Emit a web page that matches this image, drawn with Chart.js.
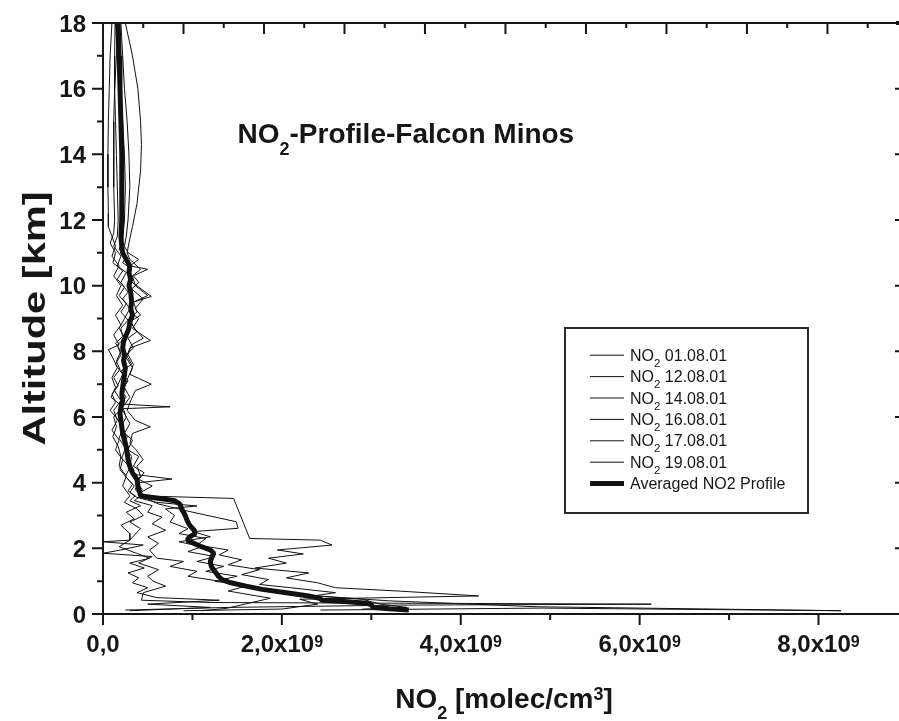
<!DOCTYPE html>
<html>
<head>
<meta charset="utf-8">
<script src="https://cdn.jsdelivr.net/npm/chart.js@4"></script>
<style>
  html, body { margin: 0; padding: 0; background: #fff; overflow: hidden; }
  #wrap { width: 899px; height: 721px; position: relative; }
</style>
</head>
<body>
<div id="wrap"><canvas id="c" width="899" height="721"></canvas></div>
<script>
// NO2 number density in units of 1e9 molec/cm3, altitude in km
const alt_010801 = [18,17,16,15,14.3,13.5,12.5,11.8,11.3,11.0,10.8,10.5,10.3,10.0,9.7,9.5,9.2,9.0,8.7,8.4,8.2,7.9,7.6,7.3,7.0,6.8,6.5,6.2,5.9,5.7,5.5,5.2,5.0,4.7,4.5,4.2,4.0,3.8,3.6,3.52,2.3,2.25,2.1,1.95,1.83,1.7,1.55,1.4,1.25,1.1,0.95,0.8,0.7,0.55,0.45,0.3,0.15,0.1];
const no2_010801 = [0.25,0.33,0.39,0.42,0.43,0.42,0.38,0.33,0.29,0.27,0.30,0.42,0.33,0.36,0.50,0.34,0.38,0.30,0.35,0.45,0.32,0.28,0.34,0.30,0.54,0.36,0.31,0.27,0.36,0.53,0.33,0.30,0.37,0.45,0.38,0.42,0.37,0.44,0.40,1.46,1.64,2.43,2.56,1.95,2.24,1.85,2.05,1.70,2.30,2.05,2.40,2.60,3.30,4.20,2.20,2.40,2.00,0.90];

const alt_120801 = [18,17,16,15,14,13,12.2,11.8,11.5,11.2,10.9,10.6,10.3,10.0,9.7,9.4,9.1,8.8,8.5,8.2,8.05,7.8,7.5,7.2,6.9,6.6,6.4,6.31,6.25,6.0,5.7,5.4,5.1,4.8,4.5,4.2,3.9,3.6,3.4,3.2,3.0,2.8,2.6,2.4,2.25,2.2,2.1,1.95,1.85,1.75,1.55,1.35,1.15,1.0,0.85,0.65,0.42,0.35,0.3,0.27,0.2,0.12];
const no2_120801 = [0.10,0.08,0.07,0.06,0.055,0.055,0.06,0.06,0.10,0.14,0.10,0.18,0.12,0.20,0.15,0.22,0.14,0.20,0.12,0.18,0.06,0.11,0.16,0.10,0.14,0.09,0.18,0.75,0.20,0.12,0.15,0.11,0.17,0.20,0.18,0.26,0.22,0.30,0.24,0.38,0.45,0.30,0.42,0.35,0.30,0.0,0.45,0.20,0.0,0.55,0.40,0.62,0.50,0.56,0.70,0.45,0.43,1.20,6.13,3.30,1.40,0.25];

const alt_140801 = [18,17,16,15,14,13,12,11.4,11.1,10.9,10.7,10.5,10.2,9.67,9.5,9.2,9.0,8.7,8.33,8.1,7.8,7.5,7.2,6.9,6.6,6.3,6.0,5.7,5.4,5.1,4.8,4.5,4.25,4.11,4.0,3.8,3.6,3.45,3.3,3.1,2.95,2.75,2.55,2.35,2.15,1.95,1.7,1.6,1.45,1.3,1.15,1.0,0.9,0.8,0.68,0.55,0.4,0.22,0.1,0.18,0.12];
const no2_140801 = [0.14,0.16,0.19,0.22,0.24,0.25,0.24,0.22,0.18,0.26,0.22,0.32,0.28,0.54,0.34,0.30,0.40,0.33,0.53,0.30,0.26,0.33,0.28,0.24,0.30,0.22,0.26,0.20,0.27,0.24,0.32,0.30,0.36,0.77,0.40,0.36,0.42,0.35,0.55,0.50,0.66,0.55,0.70,0.50,0.62,0.52,0.60,0.90,0.75,1.05,0.95,1.30,1.45,1.70,1.95,2.40,3.20,4.86,8.25,4.90,2.43];

const alt_160801 = [18,17,16,15,14,13,12,11.5,11.2,10.9,10.6,10.4,10.1,9.8,9.6,9.3,9.0,8.7,8.4,8.2,7.9,7.6,7.3,7.0,6.8,6.5,6.2,5.9,5.6,5.3,5.0,4.7,4.4,4.1,3.9,3.7,3.55,3.4,3.29,3.2,3.0,2.8,2.6,2.45,2.3,2.1,1.95,1.8,1.65,1.5,1.35,1.2,1.05,0.9,0.8,0.65,0.55,0.45,0.3,0.2,0.15];
const no2_160801 = [0.135,0.13,0.13,0.14,0.15,0.16,0.17,0.16,0.12,0.20,0.16,0.26,0.20,0.28,0.22,0.30,0.24,0.18,0.25,0.16,0.20,0.14,0.22,0.17,0.13,0.20,0.12,0.16,0.10,0.18,0.14,0.22,0.19,0.28,0.35,0.30,0.38,0.60,1.05,0.70,0.80,0.75,0.95,0.85,1.15,1.05,1.40,1.30,1.55,1.40,1.75,1.55,1.85,1.75,2.10,2.60,2.35,2.90,3.10,3.40,2.90];

const alt_170801 = [18,17,16,15,14,13,12,11.5,11.2,11.0,10.8,10.6,10.5,10.3,10.1,9.9,9.6,9.3,9.1,8.9,8.6,8.4,8.1,7.9,7.6,7.4,7.1,6.8,6.6,6.4,6.1,5.8,5.5,5.3,5.0,4.8,4.5,4.3,4.1,3.9,3.7,3.5,3.35,3.12,2.81,2.61,2.51,2.35,2.2,2.05,1.9,1.75,1.6,1.45,1.3,1.15,1.0,0.85,0.7,0.48,0.17,0.1];
const no2_170801 = [0.20,0.22,0.24,0.27,0.29,0.30,0.28,0.26,0.24,0.28,0.40,0.30,0.50,0.34,0.40,0.32,0.45,0.36,0.42,0.30,0.38,0.28,0.34,0.26,0.32,0.20,0.28,0.20,0.26,0.18,0.24,0.30,0.24,0.33,0.28,0.40,0.34,0.46,0.40,0.55,0.42,0.50,0.62,0.97,1.49,1.51,1.01,1.20,0.85,1.10,0.95,1.25,1.05,1.35,1.15,1.50,1.25,1.60,1.40,1.87,1.38,1.10];

const alt_190801 = [18,17,16,15,14,13,12,11.6,11.3,11.0,10.7,10.45,10.2,9.95,9.7,9.45,9.2,8.95,8.7,8.45,8.25,8.0,7.7,7.45,7.2,6.95,6.7,6.45,6.2,5.95,5.65,5.35,5.05,4.75,4.45,4.2,3.95,3.75,3.6,3.45,3.3,3.1,2.9,2.7,2.45,2.25,2.05,1.7,1.55,1.4,1.25,1.1,0.95,0.8,0.65,0.5,0.42,0.3,0.2,0.1];
const no2_190801 = [0.17,0.15,0.13,0.12,0.12,0.12,0.13,0.12,0.08,0.14,0.11,0.22,0.16,0.24,0.18,0.26,0.20,0.28,0.20,0.22,0.14,0.20,0.15,0.19,0.12,0.17,0.10,0.14,0.08,0.16,0.22,0.18,0.25,0.21,0.30,0.25,0.33,0.28,0.36,0.30,0.42,0.26,0.35,0.20,0.30,0.30,0.18,0.52,0.30,0.46,0.28,0.40,0.33,0.50,0.38,0.60,1.30,0.50,1.20,0.30];

const alt_avg = [18,17,16,15,14,13,12,11.5,11.2,11.0,10.8,10.6,10.4,10.2,10.0,9.8,9.5,9.3,9.1,8.9,8.7,8.5,8.3,8.1,7.9,7.7,7.5,7.3,7.1,6.9,6.7,6.5,6.3,6.1,5.9,5.7,5.5,5.3,5.1,4.9,4.7,4.5,4.3,4.1,3.9,3.7,3.6,3.55,3.5,3.45,3.35,3.2,3.0,2.85,2.7,2.55,2.45,2.35,2.25,2.15,2.05,1.95,1.85,1.75,1.6,1.45,1.3,1.15,1.05,0.95,0.85,0.75,0.65,0.55,0.48,0.42,0.38,0.33,0.28,0.2,0.16,0.12];
const no2_avg = [0.17,0.18,0.19,0.20,0.21,0.21,0.21,0.20,0.21,0.22,0.26,0.30,0.29,0.31,0.29,0.31,0.32,0.31,0.33,0.30,0.29,0.26,0.23,0.22,0.24,0.23,0.25,0.24,0.23,0.22,0.21,0.22,0.20,0.19,0.20,0.21,0.22,0.24,0.26,0.27,0.28,0.30,0.33,0.38,0.39,0.41,0.42,0.55,0.68,0.80,0.86,0.88,0.92,0.94,0.97,1.02,1.03,0.97,0.94,1.02,1.10,1.20,1.24,1.22,1.20,1.21,1.25,1.29,1.33,1.43,1.60,1.78,2.05,2.30,2.42,2.45,2.70,2.95,3.00,3.02,3.20,3.42];

const flightLabels = ['NO2 01.08.01','NO2 12.08.01','NO2 14.08.01','NO2 16.08.01','NO2 17.08.01','NO2 19.08.01'];
const avgLabel = 'Averaged NO2 Profile';

// axis tick values (x in 1e9 molec/cm3)
const xMajorTicks = [0, 2, 4, 6, 8];
const xMinorTicks = [1, 3, 5, 7];
const xTickLabels = ['0,0', '2,0x10^9', '4,0x10^9', '6,0x10^9', '8,0x10^9'];
const topMajorTicks = [0.9, 1.8, 2.7, 3.6, 4.5, 5.4, 6.3, 7.2, 8.1];
const topMinorTicks = [0.45, 1.35, 2.25, 3.15, 4.05, 4.95, 5.85, 6.75, 7.65, 8.55];
const yMajorTicks = [0, 2, 4, 6, 8, 10, 12, 14, 16, 18];
const yMinorTicks = [1, 3, 5, 7, 9, 11, 13, 15, 17];
const yTickLabels = ['0', '2', '4', '6', '8', '10', '12', '14', '16', '18'];

const FONT = '"Liberation Sans", Arial, Helvetica, sans-serif';
const INK = '#161616';

function profile(alts, vals) {
  return alts.map((a, i) => ({ x: vals[i], y: a }));
}

// text with '^c' superscript and '_c' subscript
function richParts(str) {
  const parts = []; let buf = '';
  for (let i = 0; i < str.length; i++) {
    const c = str[i];
    if ((c === '^' || c === '_') && i + 1 < str.length) {
      if (buf) { parts.push({ t: buf, k: 0 }); buf = ''; }
      parts.push({ t: str[i + 1], k: c === '^' ? 1 : -1 });
      i++;
    } else buf += c;
  }
  if (buf) parts.push({ t: buf, k: 0 });
  return parts;
}
function drawRich(ctx, str, x, y, o) {
  const parts = richParts(str);
  const fontFor = k => `${o.weight} ${k ? o.small : o.size}px ${FONT}`;
  let w = 0;
  parts.forEach(p => { ctx.font = fontFor(p.k); p.w = ctx.measureText(p.t).width; w += p.w; });
  let cx = o.align === 'center' ? x - w / 2 : o.align === 'right' ? x - w : x;
  ctx.textAlign = 'left';
  ctx.textBaseline = 'alphabetic';
  parts.forEach(p => {
    ctx.font = fontFor(p.k);
    ctx.fillText(p.t, cx, y + (p.k > 0 ? -o.up : p.k < 0 ? o.down : 0));
    cx += p.w;
  });
  return w;
}

const framePlugin = {
  id: 'frame',
  afterDatasetsDraw(chart) {
    const { ctx, chartArea: a, scales: { x, y } } = chart;
    ctx.save();
    ctx.strokeStyle = INK;
    ctx.fillStyle = INK;
    ctx.lineWidth = 2;
    ctx.lineCap = 'butt';

    // axis lines
    ctx.beginPath();
    ctx.moveTo(a.left, a.top); ctx.lineTo(a.left, a.bottom + 1);
    ctx.moveTo(a.left - 1, a.bottom); ctx.lineTo(a.right, a.bottom);
    ctx.moveTo(a.left - 1, a.top); ctx.lineTo(a.right, a.top);
    ctx.stroke();
    ctx.fillRect(a.right - 3, a.top - 2, 3, 4);

    // ticks
    ctx.beginPath();
    xMajorTicks.forEach(v => { const p = x.getPixelForValue(v); ctx.moveTo(p, a.bottom); ctx.lineTo(p, a.bottom + 11); });
    xMinorTicks.forEach(v => { const p = x.getPixelForValue(v); ctx.moveTo(p, a.bottom); ctx.lineTo(p, a.bottom + 6); });
    topMajorTicks.forEach(v => { const p = x.getPixelForValue(v); ctx.moveTo(p, a.top); ctx.lineTo(p, a.top + 11); });
    topMinorTicks.forEach(v => { const p = x.getPixelForValue(v); ctx.moveTo(p, a.top); ctx.lineTo(p, a.top + 5); });
    yMajorTicks.forEach(v => { const p = y.getPixelForValue(v); ctx.moveTo(a.left, p); ctx.lineTo(a.left - 11, p); });
    yMinorTicks.forEach(v => { const p = y.getPixelForValue(v); ctx.moveTo(a.left, p); ctx.lineTo(a.left - 6, p); });
    yMajorTicks.forEach(v => { const p = y.getPixelForValue(v); ctx.moveTo(a.right, p); ctx.lineTo(a.right - 4, p); });
    ctx.stroke();

    // tick labels
    xMajorTicks.forEach((v, i) => {
      drawRich(ctx, xTickLabels[i], x.getPixelForValue(v), a.bottom + 38,
        { weight: 'bold', size: 24, small: 16, up: 5.5, down: 0, align: 'center' });
    });
    yMajorTicks.forEach((v, i) => {
      drawRich(ctx, yTickLabels[i], a.left - 17, y.getPixelForValue(v) + 8.5,
        { weight: 'bold', size: 24, small: 16, up: 0, down: 0, align: 'right' });
    });

    // axis titles
    drawRich(ctx, 'NO_2 [molec/cm^3]', 504, 708,
      { weight: 'bold', size: 28, small: 18, up: 8, down: 11, align: 'center' });
    ctx.save();
    ctx.translate(45, (a.top + a.bottom) / 2);
    ctx.rotate(-Math.PI / 2);
    ctx.scale(1.3, 1);
    drawRich(ctx, 'Altitude [km]', 0, 0,
      { weight: 'bold', size: 32, small: 20, up: 0, down: 0, align: 'center' });
    ctx.restore();

    // chart title
    drawRich(ctx, 'NO_2-Profile-Falcon Minos', 237.5, 143.3,
      { weight: 'bold', size: 28, small: 18, up: 0, down: 12, align: 'left' });

    // legend
    const bx = 565, by = 328, bw = 243, bh = 185;
    ctx.fillStyle = '#fff';
    ctx.fillRect(bx, by, bw, bh);
    ctx.strokeStyle = '#2a2a2a';
    ctx.lineWidth = 2;
    ctx.strokeRect(bx, by, bw, bh);
    chart.data.datasets.forEach((ds, i) => {
      const base = 360.7 + i * 21.4;
      ctx.strokeStyle = ds.borderColor;
      ctx.lineWidth = ds.borderWidth;
      ctx.beginPath();
      ctx.moveTo(590, base - 5.5);
      ctx.lineTo(624, base - 5.5);
      ctx.stroke();
      ctx.fillStyle = INK;
      drawRich(ctx, ds.label.replace(/^NO2 /, 'NO_2 '), 630, base,
        { weight: 'normal', size: 16, small: 11.5, up: 0, down: 6, align: 'left' });
    });
    ctx.restore();
  }
};

const flightAlts = [alt_010801, alt_120801, alt_140801, alt_160801, alt_170801, alt_190801];
const flightVals = [no2_010801, no2_120801, no2_140801, no2_160801, no2_170801, no2_190801];

const datasets = flightLabels.map((lab, i) => ({
  label: lab,
  data: profile(flightAlts[i], flightVals[i]),
  borderColor: '#111',
  borderWidth: 1,
  showLine: true,
  pointRadius: 0,
  tension: 0
}));
datasets.push({
  label: avgLabel,
  data: profile(alt_avg, no2_avg),
  borderColor: '#111',
  borderWidth: 5,
  borderJoinStyle: 'bevel',
  showLine: true,
  pointRadius: 0,
  tension: 0
});

new Chart(document.getElementById('c'), {
  type: 'scatter',
  data: { datasets },
  options: {
    responsive: false,
    animation: false,
    devicePixelRatio: 1,
    layout: { padding: { left: 103, right: 0, top: 23, bottom: 107 } },
    plugins: { legend: { display: false }, tooltip: { enabled: false }, title: { display: false } },
    scales: {
      x: { type: 'linear', min: 0, max: 8.9, display: false },
      y: { type: 'linear', min: 0, max: 18, display: false }
    }
  },
  plugins: [framePlugin]
});
</script>
</body>
</html>
